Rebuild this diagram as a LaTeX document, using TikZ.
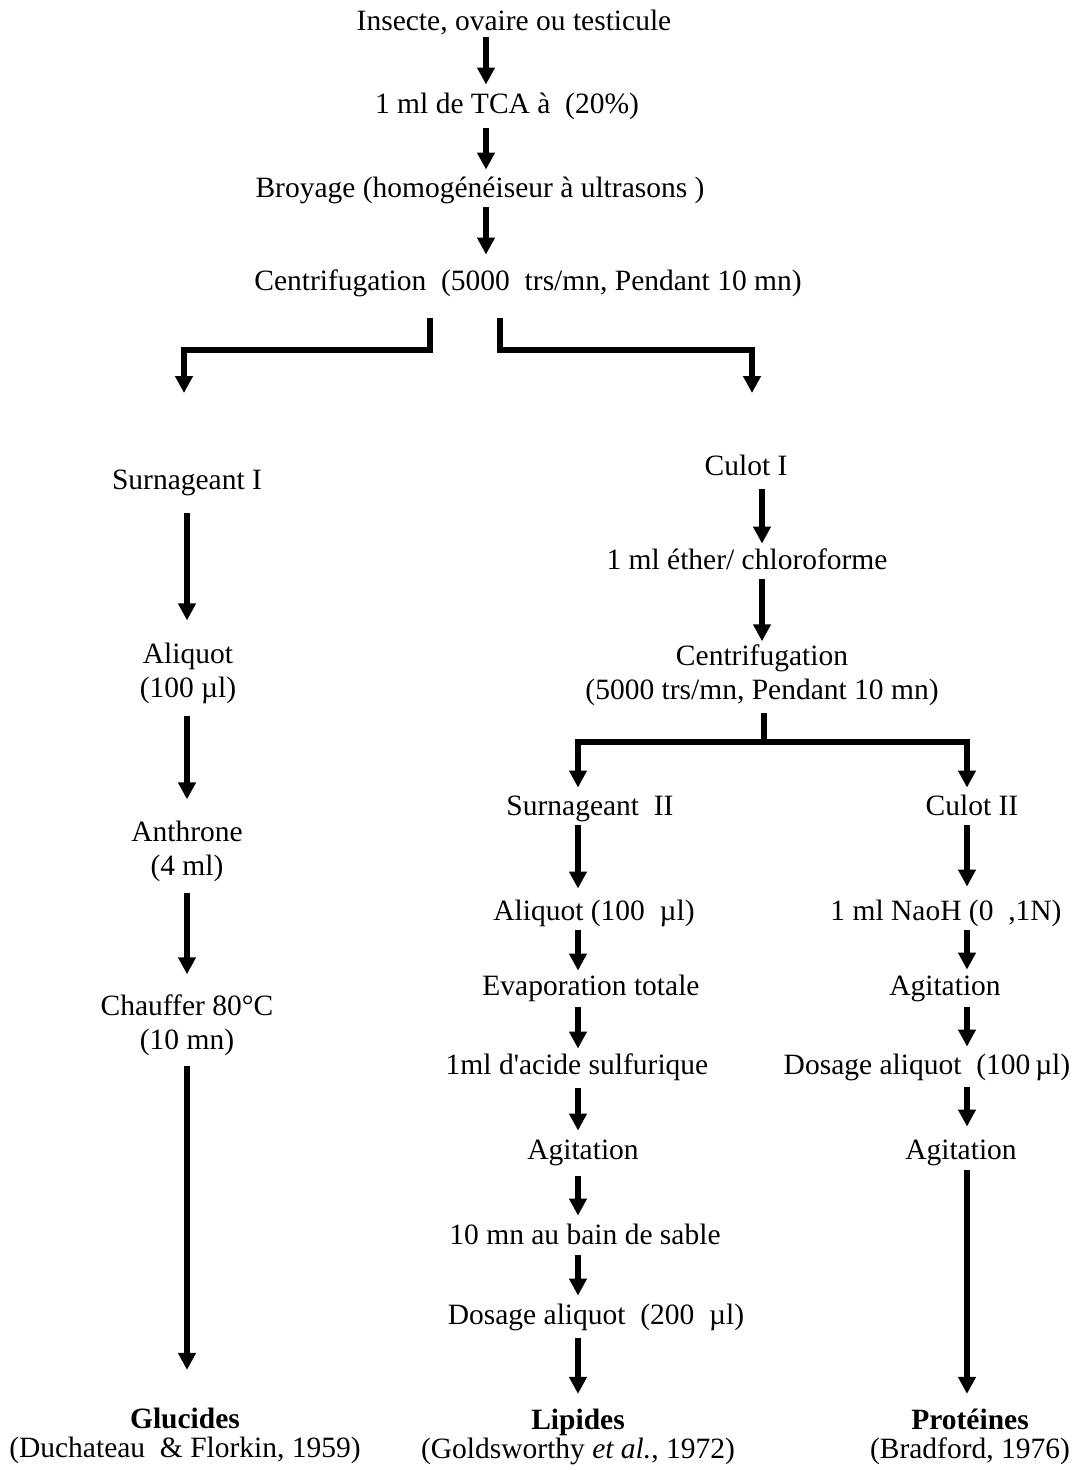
\documentclass[tikz,border=0pt]{standalone}
\usepackage{fontspec}
\setmainfont{Liberation Serif}
\usetikzlibrary{arrows.meta}
\newcommand{\fsz}{\fontsize{29.5}{34}\selectfont}
\begin{document}
\begin{tikzpicture}[x=1pt,y=-1pt,
  one/.style={font=\fsz, inner sep=0pt, text height=20pt, text depth=6.5pt},
  two/.style={font=\fsz, inner sep=0pt, align=center},
  ln/.style={line width=5.5pt},
  arr/.style={ln, -{Triangle[width=17pt,length=17pt]}}]
\path[use as bounding box] (0,0) rectangle (1080,1470);

% column x positions of arrows
\coordinate (xT) at (486,0);
\coordinate (xL) at (187,0);
\coordinate (xC) at (762,0);
\coordinate (xM) at (578,0);
\coordinate (xR) at (967,0);

% top chain
\node[one] (n1) at (514,24) {Insecte, ovaire ou testicule};
\node[one] (n2) at (507,107) {1 ml de TCA à\ \ (20\%)};
\node[one] (n3) at (480,191) {Broyage\ (homogénéiseur à ultrasons\ )};
\node[one] (n4) at (528,284) {Centrifugation\ \ (5000\ \ trs/mn, Pendant 10 mn)};

\draw[arr, shorten >=9pt] (n1.south -| xT) -- (n2.north -| xT);
\draw[arr, shorten <=8pt, shorten >=8pt] (n2.south -| xT) -- (n3.north -| xT);
\draw[arr, shorten <=3pt, shorten >=16pt] (n3.south -| xT) -- (n4.north -| xT);

% first split
\coordinate (bL) at (430,350);
\coordinate (bLL) at (184,350);
\coordinate (tL) at (184,393);
\coordinate (bR) at (500,350);
\coordinate (bRR) at (752,350);
\coordinate (tR) at (752,393);
\draw[arr, shorten <=21pt] (n4.south -| bL) -- (bL) -- (bLL) -- (tL);
\draw[arr, shorten <=21pt] (n4.south -| bR) -- (bR) -- (bRR) -- (tR);

% left column
\node[one] (s1) at (187,483) {Surnageant I};
\node[two] (a1) at (188,673) {Aliquot\\(100 µl)};
\node[two] (an) at (187,851) {Anthrone\\(4 ml)};
\node[two] (ch) at (187,1025) {Chauffer 80°C\\(10 mn)};
\node[two] (gl) at (185,1436) {\textbf{Glucides}\\[-5pt](Duchateau\ \ \& Florkin, 1959)};

\draw[arr, shorten <=17pt, shorten >=22pt] (s1.south -| xL) -- (a1.north -| xL);
\draw[arr, shorten <=12pt, shorten >=21pt] (a1.south -| xL) -- (an.north -| xL);
\draw[arr, shorten <=11pt, shorten >=20pt] (an.south -| xL) -- (ch.north -| xL);
\draw[arr, shorten <=10pt, shorten >=38pt] (ch.south -| xL) -- (gl.north -| xL);

% Culot I chain
\node[one] (c1) at (746,469) {Culot I};
\node[one] (e1) at (747,563) {1 ml éther/ chloroforme};
\node[two] (c2) at (762,675) {Centrifugation\\(5000 trs/mn, Pendant 10 mn)};
\draw[arr, shorten <=7pt, shorten >=6pt] (c1.south -| xC) -- (e1.north -| xC);
\draw[arr, shorten <=3pt, shorten >=3pt] (e1.south -| xC) -- (c2.north -| xC);

% second split
\coordinate (bM) at (764,742);
\draw[ln, shorten <=7pt] (c2.south -| bM) -- (bM);

% middle column
\node[one] (s2) at (590,809) {Surnageant\ \ II};
\node[one] (al2) at (594,914) {Aliquot (100\ \ µl)};
\node[one] (ev) at (591,989) {Evaporation totale};
\node[one] (ac) at (577,1068) {1ml d\textquotesingle acide sulfurique};
\node[one] (ag1) at (583,1153) {Agitation};
\node[one] (sb) at (585,1238) {10 mn au bain de sable};
\node[one] (do) at (596,1318) {Dosage aliquot\ \ (200\ \ µl)};
\node[two] (li) at (578,1437) {\textbf{Lipides}\\[-5pt](Goldsworthy \textit{et al.}, 1972)};

% right column
\node[one] (cu2) at (972,809) {Culot II};
\node[one] (na) at (946,914) {1 ml NaoH (0\ \ ,1N)};
\node[one] (ag2) at (945,989) {Agitation};
\node[one] (da) at (927,1068) {Dosage aliquot\ \ (100\,µl)};
\node[one] (ag3) at (961,1153) {Agitation};
\node[two] (pr) at (970,1437) {\textbf{Protéines}\\[-5pt](Bradford, 1976)};

\draw[arr, shorten >=8pt] (bM) -| (s2.north -| xM);
\draw[arr, shorten >=8pt] (bM) -| (cu2.north -| xR);

\draw[arr, shorten <=3pt, shorten >=12pt] (s2.south -| xM) -- (al2.north -| xM);
\draw[arr, shorten <=3pt, shorten >=5pt] (al2.south -| xM) -- (ev.north -| xM);
\draw[arr, shorten <=5pt, shorten >=6pt] (ev.south -| xM) -- (ac.north -| xM);
\draw[arr, shorten <=7pt, shorten >=9pt] (ac.south -| xM) -- (ag1.north -| xM);
\draw[arr, shorten <=10pt, shorten >=9pt] (ag1.south -| xM) -- (sb.north -| xM);
\draw[arr, shorten <=4pt, shorten >=9pt] (sb.south -| xM) -- (do.north -| xM);
\draw[arr, shorten <=7pt, shorten >=15pt] (do.south -| xM) -- (li.north -| xM);

\draw[arr, shorten <=3pt, shorten >=14pt] (cu2.south -| xR) -- (na.north -| xR);
\draw[arr, shorten <=3pt, shorten >=6pt] (na.south -| xR) -- (ag2.north -| xR);
\draw[arr, shorten <=5pt, shorten >=8pt] (ag2.south -| xR) -- (da.north -| xR);
\draw[arr, shorten <=6pt, shorten >=13pt] (da.south -| xR) -- (ag3.north -| xR);
\draw[arr, shorten <=4pt, shorten >=15pt] (ag3.south -| xR) -- (pr.north -| xR);
\end{tikzpicture}
\end{document}
